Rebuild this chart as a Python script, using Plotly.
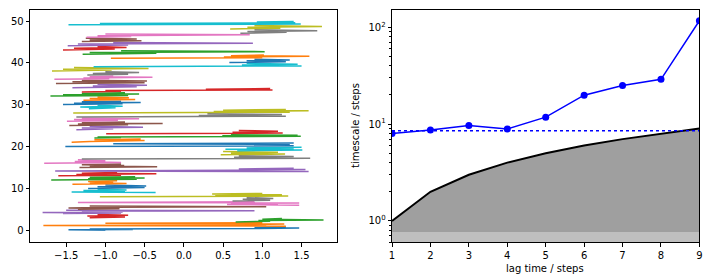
import numpy as np
import plotly.graph_objects as go

# ---------------- data ----------------
# left panel: 50 trajectories, x waypoints (order = time)
trajectories = [
    [-1.0, -1.47, -0.65, -1.2, 0.95, 1.47, 0.9, 1.3],      # 0
    [1.3, -1.79, 1.05, 0.88, 1.28, -1.0, 1.0],              # 1
    [0.66, 1.1, 0.95, 1.78, 1.0, 1.25],                     # 2
    [-1.2, -0.75, -1.23, -0.71, -1.1],                      # 3
    [-1.54, -0.8, -1.80, -0.78, -1.3, 0.90, -1.5],          # 4
    [-1.35, -0.82, -1.47, -0.9, 1.05, -1.2],                # 5
    [1.47, 0.55, 1.2, 0.6, 1.47, -1.35, 0.9],               # 6
    [0.62, 1.1, 0.75, 1.14, 0.8],                           # 7
    [-1.07, 1.33, 0.4, 1.25, 0.36, 1.0],                    # 8
    [-0.36, -1.43, -0.75, -1.28, -0.73, -1.1],              # 9
    [-1.22, -0.5, -1.1, -0.48, -1.0],                       # 10
    [-1.42, -0.73, -1.2, -0.9, -1.22, -0.85],               # 11
    [-1.69, -0.6, -1.22, -0.5, -1.2, -0.62],                # 12
    [-1.6, -0.8, -1.37, -0.35, -1.3, -0.85],                # 13
    [1.59, -1.64, 0.65, 1.55, 0.7, 1.4],                    # 14
    [-1.33, -0.34, -1.2, -0.76, -1.3, -0.8],                # 15
    [-1.78, -0.8, -1.39, -1.0, -1.35],                      # 16
    [-1.30, 1.61, 0.64, 1.40, 0.7],                         # 17
    [0.47, 1.29, 0.6, 1.2, 0.5],                            # 18
    [0.68, 1.51, 0.53, 1.4, 0.8, 1.5],                      # 19
    [-1.51, 1.40, 0.9, 1.35, -0.9, 1.4],                    # 20
    [-1.43, -1.2, -0.5, -1.14, -0.55],                      # 21
    [-1.14, -0.8, -1.1, 1.49, 0.49, 1.45, 0.6],             # 22
    [-0.99, 1.26, 0.62, 1.2, 0.7],                          # 23
    [-1.37, -0.9, -1.3, -0.52, -1.2],                       # 24
    [-1.46, -0.71, -1.35, -0.27, -1.3, -0.75],              # 25
    [-1.49, -0.84, -1.4, -0.57, -1.3],                      # 26
    [-1.37, 1.30, 0.19, 1.25, 0.3],                         # 27
    [-1.41, 1.35, 0.38, 1.59, 0.5, 1.3],                    # 28
    [-1.21, -0.87, -1.32, -0.78, -1.1],                     # 29
    [-1.54, -0.78, -1.4, -0.55, -1.3, -0.8],                # 30
    [-1.28, -0.62, -1.2, -0.7, -1.1],                       # 31
    [-1.70, -0.71, -1.54, -0.57, -1.3, -0.75],              # 32
    [-1.30, -0.8, -1.0, 1.13, 0.28, 1.1],                   # 33
    [-1.42, -0.6, -1.16, -0.47, -1.1],                      # 34
    [-1.63, -0.5, -1.42, -0.47, -1.3],                      # 35
    [-1.65, -0.95, -1.28, -0.4, -1.2, -0.9],                # 36
    [-1.23, -0.71, -1.16, -0.57, -1.0],                     # 37
    [-1.68, -0.92, -1.54, -0.45, -1.4],                     # 38
    [-1.15, 1.50, 0.74, 1.45, 0.8],                         # 39
    [0.58, 1.3, 0.8, 1.35, 0.9],                            # 40
    [-0.93, 1.0, 0.51, 1.60, 0.6, 1.02],                    # 41
    [-1.29, -0.35, -1.2, 1.03, -0.8],                       # 42
    [-1.54, -0.88, -1.4, -0.73, -1.1],                      # 43
    [-1.48, -0.71, -1.35, 0.88, -0.9],                      # 44
    [-1.30, -0.54, -1.2, -0.6, -1.25],                      # 45
    [-1.24, -0.67, -1.1, 0.84, -1.0],                       # 46
    [0.72, 1.31, 0.81, 1.70, 0.9],                          # 47
    [0.59, 1.23, 0.81, 1.76, 0.9],                          # 48
    [-1.47, 1.49, -1.07, 1.42, 0.93, 1.4],                  # 49
]
left_xticks = [-1.5, -1.0, -0.5, 0.0, 0.5, 1.0, 1.5]
left_yticks = [0, 10, 20, 30, 40, 50]

# right panel: implied timescale vs lag time
lags = [1, 2, 3, 4, 5, 6, 7, 8, 9]
timescales = [8.0, 8.7, 9.7, 8.9, 11.8, 19.9, 25.1, 29.0, 117.0]
reference_timescale = 8.53
fill_floors = [0.5, 0.77]
right_yticks = [1, 10, 100]
right_yticklabels = ["10<sup>0</sup>", "10<sup>1</sup>", "10<sup>2</sup>"]
right_yminor = [0.6, 0.7, 0.8, 0.9, 2, 3, 4, 5, 6, 7, 8, 9,
                20, 30, 40, 50, 60, 70, 80, 90]

# ---------------- style ----------------
tab10 = ["#1f77b4", "#ff7f0e", "#2ca02c", "#d62728", "#9467bd",
         "#8c564b", "#e377c2", "#7f7f7f", "#bcbd22", "#17becf"]
FONT = "DejaVu Sans"

fig = go.Figure()

for i, xs in enumerate(trajectories):
    ys = i + np.linspace(0.1, 0.9, len(xs))
    fig.add_trace(go.Scatter(x=xs, y=ys, mode="lines",
                             line=dict(color=tab10[i % 10], width=1.5),
                             xaxis="x", yaxis="y", showlegend=False,
                             hoverinfo="skip"))

# grey fills below lag-time line
for floor in fill_floors:
    fig.add_trace(go.Scatter(x=lags + lags[::-1],
                             y=lags + [floor] * len(lags),
                             fill="toself", mode="none",
                             fillcolor="rgba(128,128,128,0.5)",
                             xaxis="x2", yaxis="y2", showlegend=False))

fig.add_trace(go.Scatter(x=lags, y=lags, mode="lines",
                         line=dict(color="black", width=2),
                         xaxis="x2", yaxis="y2", showlegend=False))
fig.add_trace(go.Scatter(x=[lags[0], lags[-1]],
                         y=[reference_timescale, reference_timescale],
                         mode="lines",
                         line=dict(color="blue", width=1.5, dash="dot"),
                         xaxis="x2", yaxis="y2", showlegend=False))
fig.add_trace(go.Scatter(x=lags, y=timescales, mode="lines+markers",
                         line=dict(color="blue", width=1.5),
                         marker=dict(color="blue", size=7),
                         xaxis="x2", yaxis="y2", showlegend=False))

axis_common = dict(showline=True, linecolor="black", linewidth=0.8,
                   mirror=True, ticks="outside", ticklen=3.5, tickwidth=0.8,
                   tickcolor="black", showgrid=False, zeroline=False,
                   tickfont=dict(family=FONT, size=10, color="black"))

fig.update_layout(
    width=712, height=280,
    margin=dict(l=0, r=0, t=0, b=0),
    paper_bgcolor="white", plot_bgcolor="white",
    showlegend=False,
    font=dict(family=FONT, size=10, color="black"),
    xaxis=dict(domain=[0.0383, 0.4729], range=[-1.96, 1.95],
               tickvals=left_xticks,
               ticktext=[("\u2212" if v < 0 else "") + f"{abs(v):.1f}" for v in left_xticks],
               anchor="y", **axis_common),
    yaxis=dict(domain=[0.134, 0.9632], range=[-2.79, 52.55],
               tickvals=left_yticks, anchor="x", **axis_common),
    xaxis2=dict(domain=[0.551, 0.9864], range=[1, 9], tickvals=lags,
                anchor="y2", **axis_common),
    yaxis2=dict(domain=[0.134, 0.9632], type="log", range=[-0.223, 2.176],
                tickvals=right_yticks, ticktext=right_yticklabels,
                anchor="x2",
                minor=dict(tickvals=right_yminor, ticks="outside", ticklen=2,
                           tickwidth=0.6, tickcolor="black", showgrid=False),
                **axis_common),
    annotations=[
        dict(text="lag time / steps", xref="paper", yref="paper",
             x=546.7 / 712, y=1 - 268 / 280, showarrow=False,
             xanchor="center", yanchor="middle",
             font=dict(family=FONT, size=10, color="black")),
        dict(text="timescale / steps", xref="paper", yref="paper",
             x=356 / 712, y=1 - 126 / 280, showarrow=False, textangle=-90,
             xanchor="center", yanchor="middle",
             font=dict(family=FONT, size=10, color="black")),
    ],
)

fig.write_html("out.html")
